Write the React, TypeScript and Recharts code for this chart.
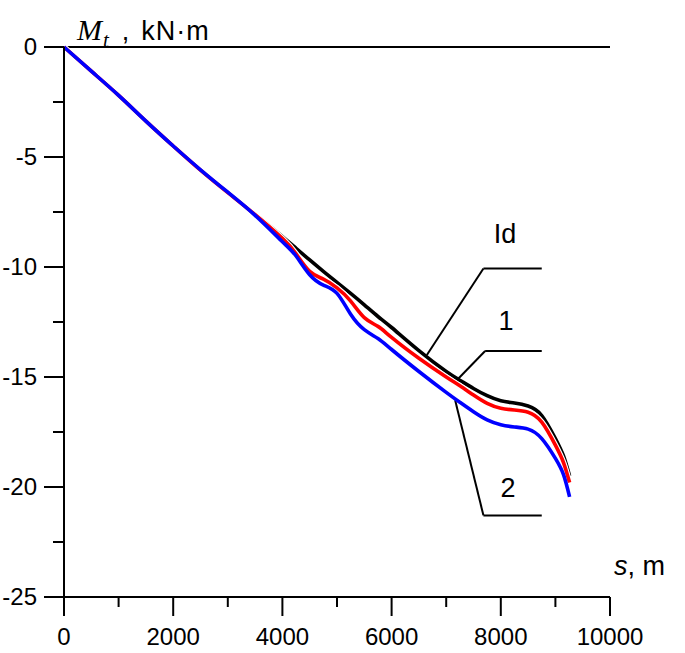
import { LineChart, Line, XAxis, YAxis, ReferenceLine, ReferenceDot } from 'recharts';

// distance along the path, m
const distance = [0, 500, 1000, 1500, 2000, 2500, 3000, 3500, 4000, 4250, 4500, 4750, 5000, 5250, 5500, 5750, 6000, 6500, 7000, 7250, 7500, 7750, 8000, 8250, 8500, 8750, 9000, 9150, 9260];

// torque Mt, kN·m
const ideal = [0, -1.1, -2.2, -3.37, -4.5, -5.6, -6.62, -7.6, -8.62, -9.15, -9.68, -10.2, -10.7, -11.2, -11.72, -12.25, -12.75, -13.8, -14.75, -15.15, -15.52, -15.85, -16.08, -16.18, -16.32, -16.75, -17.8, -18.6, -19.5];
const case1 = [0, -1.1, -2.2, -3.37, -4.5, -5.6, -6.62, -7.62, -8.7, -9.4, -10.2, -10.55, -10.95, -11.55, -12.3, -12.7, -13.2, -14.15, -15.0, -15.4, -15.82, -16.2, -16.42, -16.5, -16.6, -17.05, -18.1, -18.9, -19.8];
const case2 = [0, -1.1, -2.2, -3.37, -4.5, -5.58, -6.6, -7.65, -8.85, -9.5, -10.35, -10.82, -11.2, -12.15, -12.85, -13.25, -13.75, -14.75, -15.7, -16.15, -16.58, -16.95, -17.17, -17.27, -17.37, -17.8, -18.7, -19.45, -20.45];

const xTicks = [0, 1000, 2000, 3000, 4000, 5000, 6000, 7000, 8000, 9000, 10000];
const yTicks = [0, -2.5, -5, -7.5, -10, -12.5, -15, -17.5, -20, -22.5, -25];

const data = distance.map((s, i) => ({ s, ideal: ideal[i], c1: case1[i], c2: case2[i] }));

const SANS = '"Liberation Sans", Arial, sans-serif';
const SERIF = '"Liberation Serif", "Times New Roman", serif';

const XTick = (props: any) => {
  const { x, y, payload } = props;
  const major = payload.value % 2000 === 0;
  return (
    <g>
      <line x1={x} x2={x} y1={y} y2={y + (major ? 19 : 10)} stroke="#000" strokeWidth={2} />
      {major && (
        <text x={x} y={y + 48} textAnchor="middle" fontSize={24} fontFamily={SANS} fill="#000">
          {payload.value}
        </text>
      )}
    </g>
  );
};

const YTick = (props: any) => {
  const { x, y, payload } = props;
  const major = payload.value % 5 === 0;
  return (
    <g>
      <line x1={x - (major ? 20 : 11)} x2={x} y1={y} y2={y} stroke="#000" strokeWidth={2} />
      {major && (
        <text x={x - 27} y={y + 8} textAnchor="end" fontSize={24} fontFamily={SANS} fill="#000">
          {payload.value}
        </text>
      )}
    </g>
  );
};

const tagLabel = (value: string) => ({ value, position: 'center' as const, fontSize: 27, fontFamily: SANS, fill: '#000' });

export default function App() {
  return (
    <div style={{ position: 'relative', width: 685, height: 653, background: '#fff' }}>
      <style>{`body{margin:0}`}</style>
      <LineChart width={685} height={653} data={data} margin={{ top: 47, right: 75, left: 0, bottom: 0 }}>
        <XAxis
          dataKey="s"
          type="number"
          domain={[0, 10000]}
          ticks={xTicks}
          height={56}
          tickSize={0}
          tickMargin={0}
          tickLine={false}
          tick={<XTick />}
          axisLine={{ stroke: '#000', strokeWidth: 2 }}
          interval={0}
        />
        <YAxis
          type="number"
          domain={[-25, 0]}
          ticks={yTicks}
          width={64}
          tickSize={0}
          tickMargin={0}
          tickLine={false}
          tick={<YTick />}
          axisLine={{ stroke: '#000', strokeWidth: 2 }}
          interval={0}
        />
        <ReferenceLine y={0} stroke="#000" strokeWidth={2} />

        {/* leader lines */}
        <ReferenceLine segment={[{ x: 6646, y: -14.0 }, { x: 7682, y: -10.07 }]} stroke="#000" strokeWidth={2} />
        <ReferenceLine segment={[{ x: 7682, y: -10.07 }, { x: 8750, y: -10.07 }]} stroke="#000" strokeWidth={2} />
        <ReferenceLine segment={[{ x: 7224, y: -15.07 }, { x: 7713, y: -13.82 }]} stroke="#000" strokeWidth={2} />
        <ReferenceLine segment={[{ x: 7713, y: -13.82 }, { x: 8750, y: -13.82 }]} stroke="#000" strokeWidth={2} />
        <ReferenceLine segment={[{ x: 7164, y: -16.06 }, { x: 7682, y: -21.29 }]} stroke="#000" strokeWidth={2} />
        <ReferenceLine segment={[{ x: 7682, y: -21.29 }, { x: 8750, y: -21.29 }]} stroke="#000" strokeWidth={2} />

        <Line type="natural" dataKey="ideal" stroke="#000" strokeWidth={3.6} dot={false} isAnimationActive={false} />
        <Line type="natural" dataKey="c1" stroke="#fff" strokeWidth={5.8} dot={false} isAnimationActive={false} />
        <Line type="natural" dataKey="c1" stroke="#ff0000" strokeWidth={3.6} dot={false} isAnimationActive={false} />
        <Line type="natural" dataKey="c2" stroke="#0000ff" strokeWidth={3.6} dot={false} isAnimationActive={false} />

        <ReferenceDot x={8079} y={-8.47} r={0} fill="none" stroke="none" label={tagLabel('Id')} />
        <ReferenceDot x={8097} y={-12.42} r={0} fill="none" stroke="none" label={tagLabel('1')} />
        <ReferenceDot x={8133} y={-20.02} r={0} fill="none" stroke="none" label={tagLabel('2')} />
      </LineChart>

      <div style={{ position: 'absolute', left: 77, top: 15, whiteSpace: 'nowrap', color: '#000', lineHeight: 1 }}>
        <span style={{ fontFamily: SERIF, fontStyle: 'italic', fontSize: 30 }}>M</span>
        <span style={{ fontFamily: SERIF, fontStyle: 'italic', fontSize: 21, position: 'relative', top: 7, marginLeft: 1 }}>t</span>
        <span style={{ fontFamily: SANS, fontSize: 27, marginLeft: 13 }}>,</span>
        <span style={{ fontFamily: SANS, fontSize: 27, letterSpacing: 1, marginLeft: 12 }}>kN·m</span>
      </div>
      <div style={{ position: 'absolute', left: 614, top: 553, whiteSpace: 'nowrap', color: '#000', lineHeight: 1, fontFamily: SANS, fontSize: 27 }}>
        <span style={{ fontStyle: 'italic' }}>s</span>, m
      </div>
    </div>
  );
}
